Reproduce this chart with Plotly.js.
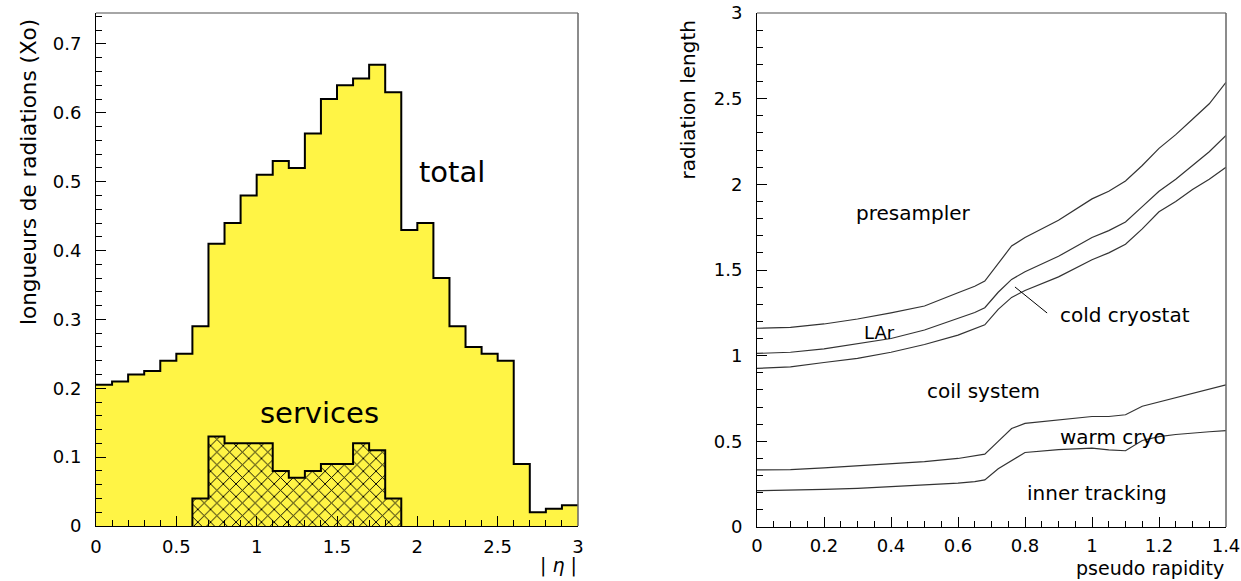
<!DOCTYPE html>
<html>
<head>
<meta charset="utf-8">
<script src="https://cdn.plot.ly/plotly-3.0.1.min.js"></script>
<style>html,body{margin:0;padding:0;background:#fff;}#chart{width:1241px;height:581px;}</style>
</head>
<body>
<div id="chart"></div>
<script>
// ---- Left panel: radiation lengths vs |eta| (bins of 0.1) ----
const etaBinLow = [0.0,0.1,0.2,0.3,0.4,0.5,0.6,0.7,0.8,0.9,1.0,1.1,1.2,1.3,1.4,1.5,1.6,1.7,1.8,1.9,2.0,2.1,2.2,2.3,2.4,2.5,2.6,2.7,2.8,2.9];
const etaUpperEdge = 3.0;
const totalX0 = [0.205,0.21,0.22,0.225,0.24,0.25,0.29,0.41,0.44,0.48,0.51,0.53,0.52,0.57,0.62,0.64,0.65,0.67,0.63,0.43,0.44,0.36,0.29,0.26,0.25,0.24,0.09,0.02,0.025,0.03];
const servBinLow = [0.6,0.7,0.8,0.9,1.0,1.1,1.2,1.3,1.4,1.5,1.6,1.7,1.8];
const servUpperEdge = 1.9;
const servicesX0 = [0.04,0.13,0.12,0.12,0.12,0.08,0.07,0.08,0.09,0.09,0.12,0.11,0.04];

// ---- Right panel: cumulative radiation length vs pseudo rapidity ----
const eta = [0,0.1,0.2,0.3,0.4,0.5,0.6,0.65,0.68,0.72,0.76,0.8,0.9,1.0,1.05,1.1,1.15,1.2,1.25,1.3,1.35,1.4];
const presamplerLine = [1.16,1.165,1.185,1.214,1.25,1.29,1.367,1.405,1.435,1.54,1.64,1.69,1.79,1.915,1.96,2.02,2.11,2.21,2.29,2.38,2.47,2.595];
const larLine        = [1.013,1.02,1.04,1.072,1.10,1.15,1.218,1.252,1.28,1.37,1.445,1.49,1.58,1.69,1.73,1.78,1.87,1.96,2.03,2.11,2.19,2.285];
const coldCryoLine   = [0.926,0.935,0.96,0.984,1.02,1.065,1.12,1.155,1.18,1.27,1.34,1.38,1.46,1.56,1.60,1.65,1.74,1.84,1.90,1.97,2.03,2.10];
const warmCryoLine   = [0.333,0.335,0.345,0.356,0.368,0.381,0.40,0.413,0.425,0.50,0.575,0.605,0.625,0.645,0.645,0.655,0.705,0.73,0.755,0.78,0.805,0.83];
const innerTrackLine = [0.212,0.215,0.22,0.226,0.235,0.245,0.256,0.265,0.275,0.34,0.39,0.435,0.452,0.46,0.45,0.445,0.505,0.527,0.54,0.55,0.556,0.562];

const leftXTicks = [0,0.5,1,1.5,2,2.5,3];
const leftXTickText = ['0','0.5','1','1.5','2','2.5','3'];
const leftYTicks = [0,0.1,0.2,0.3,0.4,0.5,0.6,0.7];
const rightXTicks = [0,0.2,0.4,0.6,0.8,1,1.2,1.4];
const rightXTickText = ['0','0.2','0.4','0.6','0.8','1','1.2','1.4'];
const rightYTicks = [0,0.5,1,1.5,2,2.5,3];
const rightYTickText = ['0','0.5','1','1.5','2','2.5','3'];

const YELLOW = '#fff445';
const FONT = 'DejaVu Sans, sans-serif';

// step-histogram helpers
const totX = etaBinLow.concat([etaUpperEdge]);
const totY = totalX0.concat([totalX0[totalX0.length-1]]);
const svX = [servBinLow[0]].concat(servBinLow, [servUpperEdge, servUpperEdge]);
const svY = [0].concat(servicesX0, [servicesX0[servicesX0.length-1], 0]);

const traces = [
  {x: totX, y: totY, type:'scatter', mode:'lines', line:{shape:'hv', color:'#000', width:2},
   fill:'tozeroy', fillcolor: YELLOW, xaxis:'x', yaxis:'y', hoverinfo:'skip'},
  {x: svX, y: svY, type:'scatter', mode:'lines', line:{shape:'hv', color:'#000', width:2},
   fill:'tozeroy', fillcolor: YELLOW,
   fillpattern:{shape:'x', fgcolor:'#000', bgcolor: YELLOW, size:9, solidity:0.2},
   xaxis:'x', yaxis:'y', hoverinfo:'skip'}
];
[presamplerLine, larLine, coldCryoLine, warmCryoLine, innerTrackLine].forEach(function(s){
  traces.push({x: eta, y: s, type:'scatter', mode:'lines', line:{color:'#333', width:1.2, shape:'linear'},
    xaxis:'x2', yaxis:'y2', hoverinfo:'skip'});
});

const axBase = {showgrid:false, zeroline:false, showline:true, linecolor:'#000', linewidth:1,
  ticks:'inside', ticklen:10, tickwidth:1, tickcolor:'#000',
  tickfont:{family:FONT, size:18, color:'#000'}, fixedrange:true};

const yDom = [54/581, 568/581];

const layout = {
  width:1241, height:581, margin:{l:0,r:0,t:0,b:0},
  paper_bgcolor:'#fff', plot_bgcolor:'#fff', showlegend:false,
  font:{family:FONT, color:'#000'},
  xaxis: Object.assign({}, axBase, {domain:[96/1241, 578/1241], range:[0,3], tickvals:leftXTicks, ticktext:leftXTickText,
    minor:{dtick:0.1, ticklen:6, ticks:'inside', tickcolor:'#000'}, anchor:'y', ticklabelstandoff:4}),
  yaxis: Object.assign({}, axBase, {domain:[55/581, 568/581], range:[0,0.745], tickvals:leftYTicks,
    minor:{dtick:0.02, ticklen:6, ticks:'inside', tickcolor:'#000'}, anchor:'x', ticklabelstandoff:10}),
  xaxis2: Object.assign({}, axBase, {domain:[757/1241, 1226/1241], range:[0,1.4], tickvals:rightXTicks, ticktext:rightXTickText,
    minor:{dtick:0.05, ticklen:6, ticks:'inside', tickcolor:'#000'}, anchor:'y2', ticklabelstandoff:2}),
  yaxis2: Object.assign({}, axBase, {domain:yDom, range:[0,3], tickvals:rightYTicks, ticktext:rightYTickText,
    minor:{dtick:0.1, ticklen:6, ticks:'inside', tickcolor:'#000'}, anchor:'x2', ticklabelstandoff:10}),
  shapes:[
    {type:'line', xref:'x domain', yref:'y domain', x0:0, x1:1, y0:1, y1:1, line:{color:'#888', width:1.5}},
    {type:'line', xref:'x domain', yref:'y domain', x0:1, x1:1, y0:0, y1:1, line:{color:'#666', width:1.5}},
    {type:'line', xref:'x2 domain', yref:'y2 domain', x0:0, x1:1, y0:1, y1:1, line:{color:'#888', width:1.5}},
    {type:'line', xref:'x2 domain', yref:'y2 domain', x0:1, x1:1, y0:0, y1:1, line:{color:'#666', width:1.5}},
    {type:'line', xref:'x2', yref:'y2', x0:0.770, y0:1.401, x1:0.866, y1:1.249, line:{color:'#000', width:1}}
  ],
  annotations:[
    {xref:'paper', yref:'paper', x:28/1241, y:(581-17)/581, xanchor:'center', yanchor:'top', textangle:-90,
     text:'longueurs de radiations (Xo)', showarrow:false, font:{family:FONT, size:21.5, color:'#000'}},
    {xref:'paper', yref:'paper', x:688/1241, y:(581-19)/581, xanchor:'center', yanchor:'top', textangle:-90,
     text:'radiation length', showarrow:false, font:{family:FONT, size:20, color:'#000'}},
    {xref:'x', yref:'y', x:2.216, y:0.514, text:'total', showarrow:false, font:{family:FONT, size:29, color:'#000'}},
    {xref:'x', yref:'y', x:1.388, y:0.164, text:'services', showarrow:false, font:{family:FONT, size:29, color:'#000'}},
    {xref:'paper', yref:'paper', x:579/1241, y:0, xanchor:'right', yanchor:'bottom', yshift:2, text:'| <i>η</i> |', showarrow:false, font:{family:FONT, size:19, color:'#000'}},
    {xref:'paper', yref:'paper', x:1226/1241, y:0, xanchor:'right', yanchor:'bottom', text:'pseudo rapidity', showarrow:false, font:{family:FONT, size:19, color:'#000'}},
    {xref:'x2', yref:'y2', x:0.466, y:1.833, text:'presampler', showarrow:false, font:{family:FONT, size:20, color:'#000'}},
    {xref:'x2', yref:'y2', x:0.367, y:1.138, text:'LAr', showarrow:false, font:{family:FONT, size:18, color:'#000'}},
    {xref:'x2', yref:'y2', x:0.899, y:1.237, xanchor:'left', text:'cold cryostat', showarrow:false, font:{family:FONT, size:20, color:'#000'}},
    {xref:'x2', yref:'y2', x:0.675, y:0.794, text:'coil system', showarrow:false, font:{family:FONT, size:20, color:'#000'}},
    {xref:'x2', yref:'y2', x:1.063, y:0.525, text:'warm cryo', showarrow:false, font:{family:FONT, size:20, color:'#000'}},
    {xref:'x2', yref:'y2', x:1.015, y:0.198, text:'inner tracking', showarrow:false, font:{family:FONT, size:20, color:'#000'}}
  ]
};

Plotly.newPlot('chart', traces, layout, {displayModeBar:false, staticPlot:true});
</script>
</body>
</html>
